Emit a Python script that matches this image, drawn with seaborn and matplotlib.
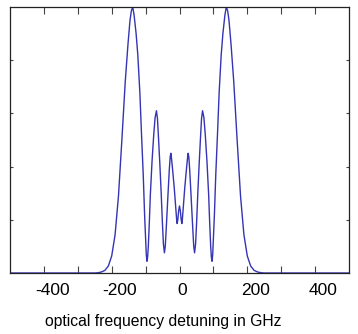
import matplotlib
matplotlib.use("Agg")
import matplotlib.pyplot as plt
import matplotlib.transforms as mtransforms
import seaborn as sns
import pandas as pd

# Optical spectrum: detuning (GHz) and spectral power (arb. units)
detuning_ghz = [
    -500, -260, -250, -240, -230, -220, -210, -200, -190, -180, -170, -160,
    -152, -146, -142, -138, -134, -128, -123, -117, -112, -107, -103, -100,
    -98, -96, -94, -92, -89, -86, -81, -76, -72, -68, -65, -62, -58, -54,
    -50.5, -47.5, -44.5, -42, -39, -34, -30, -27.5, -25.5, -23.5, -20, -15.5,
    -11, -8, -7, -5, -2.5, 0,
    2.5, 5, 7, 8, 11, 15.5, 20, 23.5, 25.5, 27.5, 30, 34, 39, 42, 44.5, 47.5,
    50.5, 54, 58, 62, 65, 68, 72, 76, 81, 86, 89, 92, 94, 96, 98, 100, 103,
    107, 112, 117, 123, 128, 134, 138, 142, 146, 152, 160, 170, 180, 190,
    200, 210, 220, 230, 240, 250, 260, 500,
]
power = [
    0.0, 0.0, 0.0, 0.005, 0.02, 0.05, 0.13, 0.32, 0.72, 1.45, 2.5, 3.6,
    4.3, 4.75, 4.93, 5.0, 4.85, 4.5, 4.1, 3.4, 2.6, 1.85, 1.1, 0.65,
    0.35, 0.22, 0.3, 0.5, 0.95, 1.47, 2.1, 2.6, 2.92, 3.05, 2.9, 2.55, 2.05, 1.5,
    0.95, 0.55, 0.38, 0.5, 0.85, 1.47, 1.95, 2.18, 2.25, 2.15, 1.92, 1.6,
    1.22, 0.97, 0.93, 1.0, 1.17, 1.26,
    1.17, 1.0, 0.93, 0.97, 1.22, 1.6, 1.92, 2.15, 2.25, 2.18, 1.95, 1.47, 0.85, 0.5, 0.38, 0.55,
    0.95, 1.5, 2.05, 2.55, 2.9, 3.05, 2.92, 2.6, 2.1, 1.47, 0.95, 0.5, 0.3, 0.22, 0.35, 0.65, 1.1,
    1.85, 2.6, 3.4, 4.1, 4.5, 4.85, 5.0, 4.93, 4.75, 4.3, 3.6, 2.5, 1.45, 0.72,
    0.32, 0.13, 0.05, 0.02, 0.005, 0.0, 0.0, 0.0,
]

x_ticks = [-400, -300, -200, -100, 0, 100, 200, 300, 400]
x_tick_labels = ["-400", "", "-200", "", "0", "", "200", "", "400"]
y_ticks = [1, 2, 3, 4]
x_label = "optical frequency detuning in GHz"

sns.set_style("white")
plt.rcParams["font.family"] = ["Liberation Sans", "DejaVu Sans"]

df = pd.DataFrame({"detuning": detuning_ghz, "power": power})

fig = plt.figure(figsize=(3.58, 3.34), dpi=100)
ax = fig.add_axes([10 / 358, 61 / 334, 339 / 358, 266 / 334])

sns.lineplot(data=df, x="detuning", y="power", ax=ax, color="#3434b4",
             linewidth=1.0, sort=False)

ax.set_xlim(-500, 500)
ax.set_ylim(0, 5.0)
ax.set_xticks(x_ticks)
ax.set_xticklabels(x_tick_labels)
ax.set_yticks(y_ticks)
ax.set_yticklabels([])
ax.set_ylabel("")

ax.tick_params(axis="x", direction="in", length=5, width=0.8, color="#444444",
               top=True, bottom=True, labelsize=12.5, pad=7, labelcolor="black")
ax.tick_params(axis="y", direction="in", length=2.5, width=0.8, color="#444444",
               left=True, right=True)

for side in ["left", "right", "top", "bottom"]:
    ax.spines[side].set_visible(True)
    ax.spines[side].set_color("#222222")
    ax.spines[side].set_linewidth(0.9)

# nudge tick labels slightly to the right
shifts_px = {"-400": 9, "-200": 8, "0": 3, "200": 8.5, "400": 8}
for lab in ax.get_xticklabels():
    dx = shifts_px.get(lab.get_text(), 0)
    lab.set_transform(lab.get_transform() +
                      mtransforms.ScaledTranslation(dx / 100, 0, fig.dpi_scale_trans))

ax.set_xlabel(x_label, fontsize=11.3, color="black")
ax.xaxis.set_label_coords(0.453, -0.153)

fig.savefig("out.png", dpi=100)
